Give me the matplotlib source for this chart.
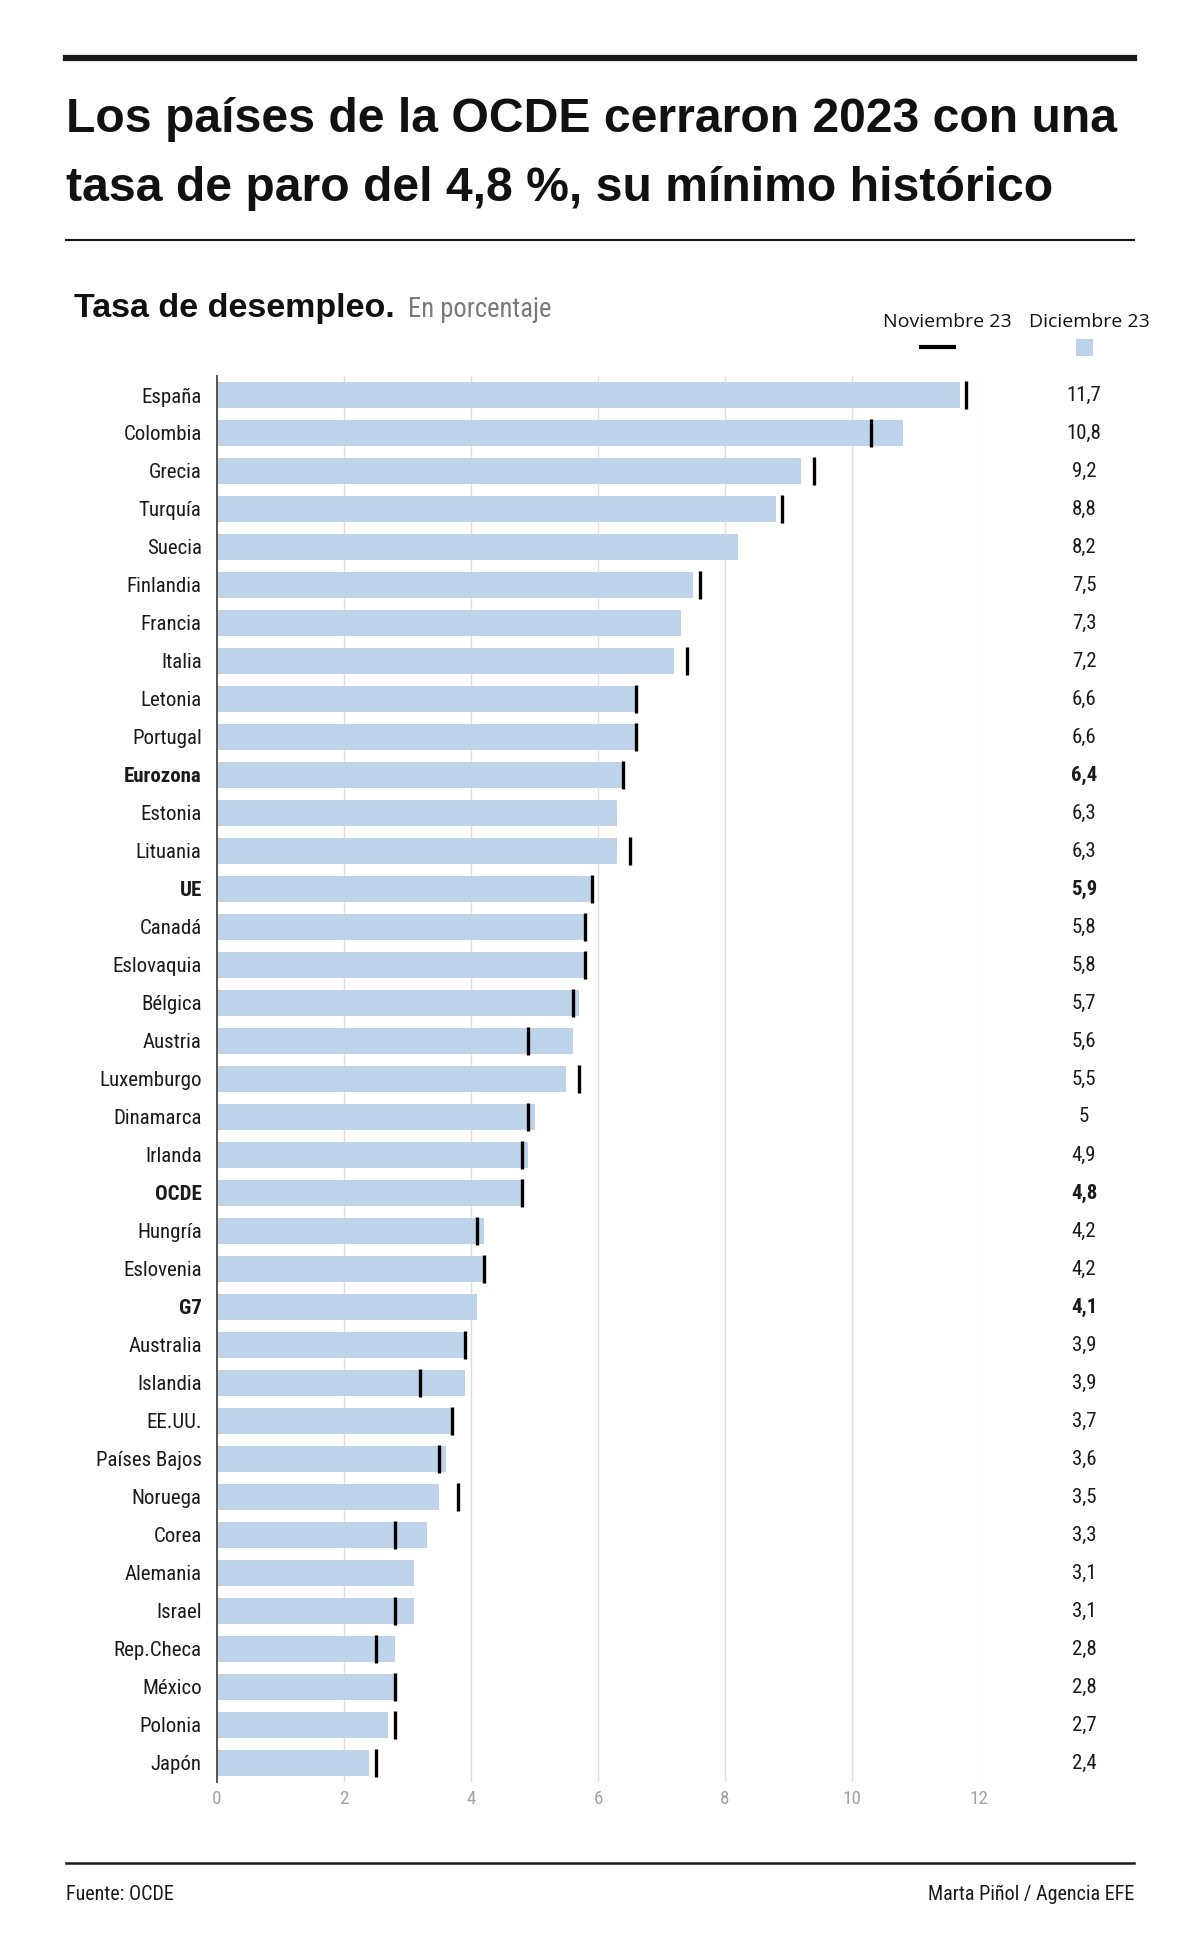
import numpy as np
import matplotlib
matplotlib.use("Agg")
import matplotlib.pyplot as plt
from matplotlib import font_manager
from matplotlib.lines import Line2D
from matplotlib.patches import Rectangle
from matplotlib.transforms import blended_transform_factory

# datos: tasa de desempleo (%)
paises = ["España", "Colombia", "Grecia", "Turquía", "Suecia", "Finlandia", "Francia",
          "Italia", "Letonia", "Portugal", "Eurozona", "Estonia", "Lituania", "UE",
          "Canadá", "Eslovaquia", "Bélgica", "Austria", "Luxemburgo", "Dinamarca",
          "Irlanda", "OCDE", "Hungría", "Eslovenia", "G7", "Australia", "Islandia",
          "EE.UU.", "Países Bajos", "Noruega", "Corea", "Alemania", "Israel",
          "Rep.Checa", "México", "Polonia", "Japón"]
diciembre = [11.7, 10.8, 9.2, 8.8, 8.2, 7.5, 7.3, 7.2, 6.6, 6.6, 6.4, 6.3, 6.3, 5.9,
             5.8, 5.8, 5.7, 5.6, 5.5, 5.0, 4.9, 4.8, 4.2, 4.2, 4.1, 3.9, 3.9, 3.7,
             3.6, 3.5, 3.3, 3.1, 3.1, 2.8, 2.8, 2.7, 2.4]
noviembre = [11.8, 10.3, 9.4, 8.9, None, 7.6, None, 7.4, 6.6, 6.6, 6.4, None, 6.5, 5.9,
             5.8, 5.8, 5.6, 4.9, 5.7, 4.9, 4.8, 4.8, 4.1, 4.2, None, 3.9, 3.2, 3.7,
             3.5, 3.8, 2.8, None, 2.8, 2.5, 2.8, 2.8, 2.5]
agregados = ["Eurozona", "UE", "OCDE", "G7"]
xticks = [0, 2, 4, 6, 8, 10, 12]

AZUL = "#bdd3ea"

nombres = {f.name for f in font_manager.fontManager.ttflist}
NARROW = "Liberation Sans"
for cand in ["Liberation Sans Narrow", "Roboto Condensed", "Arial Narrow",
             "Noto Sans Condensed", "Open Sans Condensed"]:
    if cand in nombres:
        NARROW = cand
        break
SANS = "Liberation Sans"
LEYENDA = "Open Sans" if "Open Sans" in nombres else "DejaVu Sans"
plt.rcParams["font.family"] = [NARROW, "DejaVu Sans"]

W, H = 1200, 1947
fig = plt.figure(figsize=(W / 100, H / 100), dpi=100)
rend = fig.canvas.get_renderer()


def fx(px):
    return px / W


def fy(px):
    return 1 - px / H


def ajustar(texto, ancho_px, family, weight="normal"):
    # tamaño de letra para que el texto ocupe ancho_px
    t = fig.text(0, 0, texto, fontsize=20, family=family, weight=weight)
    w = t.get_window_extent(renderer=rend).width
    t.remove()
    return 20 * ancho_px / w


F_ETQ = ajustar("Luxemburgo", 102, [NARROW, "DejaVu Sans"])
F_PORC = ajustar("En porcentaje", 143, [NARROW, "DejaVu Sans"])
F_PIE = ajustar("Fuente: OCDE", 108, [NARROW, "DejaVu Sans"])
F_TIT = ajustar("Los países de la OCDE cerraron 2023 con una", 1052, [SANS, "DejaVu Sans"], "bold")
F_TICK = F_ETQ * 0.92

# cabecera
fig.add_artist(Line2D([fx(66), fx(1134)], [fy(58), fy(58)], color="#1a1a1a", lw=4.5))
fig.text(fx(66), fy(132), "Los países de la OCDE cerraron 2023 con una", family=[SANS, "DejaVu Sans"],
         weight="bold", fontsize=F_TIT, color="#111111", va="baseline")
fig.text(fx(66), fy(201), "tasa de paro del 4,8 %, su mínimo histórico", family=[SANS, "DejaVu Sans"],
         weight="bold", fontsize=F_TIT, color="#111111", va="baseline")
fig.add_artist(Line2D([fx(66), fx(1134)], [fy(240), fy(240)], color="#1a1a1a", lw=1.5))

fig.text(fx(74), fy(317), "Tasa de desempleo.", family=[SANS, "DejaVu Sans"], weight="bold",
         fontsize=24.5, color="#111111", va="baseline")
fig.text(fx(408), fy(317), "En porcentaje", fontsize=F_PORC, color="#7a7a7a", va="baseline")

# leyenda
fig.text(fx(947), fy(327), "Noviembre 23", family=[LEYENDA, "DejaVu Sans"], fontsize=14,
         ha="center", va="baseline", color="#111111")
fig.text(fx(1089), fy(327), "Diciembre 23", family=[LEYENDA, "DejaVu Sans"], fontsize=14,
         ha="center", va="baseline", color="#111111")
fig.add_artist(Line2D([fx(919), fx(956)], [fy(347), fy(347)], color="black", lw=3,
                      solid_capstyle="butt"))
fig.add_artist(Rectangle((fx(1076), fy(356)), fx(17), 17 / H, color=AZUL, lw=0))

# gráfico
ax = fig.add_axes([fx(217), fy(1782), fx(979 - 217), (1782 - 376) / H])
y = np.arange(len(paises))
nov = np.array([np.nan if v is None else v for v in noviembre])

ax.barh(y, diciembre, height=0.7, color=AZUL, zorder=2)
ok = ~np.isnan(nov)
ax.vlines(nov[ok], y[ok] - 0.36, y[ok] + 0.36, color="black", lw=2.4, zorder=3)

ax.set_xlim(0, 12)
ax.set_ylim(len(paises) - 0.5, -0.5)
ax.set_xticks(xticks)
ax.set_xticklabels([str(t) for t in xticks])
ax.set_yticks(y)
ax.set_yticklabels(paises)
ax.tick_params(axis="y", length=0, pad=11, labelsize=F_ETQ, labelcolor="#1a1a1a")
ax.tick_params(axis="x", length=0, pad=6, labelsize=F_TICK, labelcolor="#a3a3a3")
for lab in ax.get_yticklabels():
    if lab.get_text() in agregados:
        lab.set_fontweight("bold")

ax.grid(axis="x", color="#dedede", lw=1, zorder=0)
ax.set_axisbelow(True)
for s in ["top", "right", "bottom"]:
    ax.spines[s].set_visible(False)
ax.spines["left"].set_color("#555555")
ax.spines["left"].set_linewidth(1.4)
ax.spines["left"].set_zorder(4)

# valores a la derecha
tr = blended_transform_factory(fig.transFigure, ax.transData)
for i, (p, v) in enumerate(zip(paises, diciembre)):
    txt = f"{v:g}".replace(".", ",")
    ax.text(fx(1084), i, txt, transform=tr, ha="center", va="center", fontsize=F_ETQ,
            color="#1a1a1a", weight="bold" if p in agregados else "normal")

# pie
fig.add_artist(Line2D([fx(66), fx(1134)], [fy(1863), fy(1863)], color="#1a1a1a", lw=1.8))
fig.text(fx(66), fy(1894), "Fuente: OCDE", fontsize=F_PIE, va="center", color="#1a1a1a")
fig.text(fx(1134), fy(1894), "Marta Piñol / Agencia EFE", fontsize=F_PIE, va="center",
         ha="right", color="#1a1a1a")

fig.savefig("out.png", dpi=100, facecolor="white")
